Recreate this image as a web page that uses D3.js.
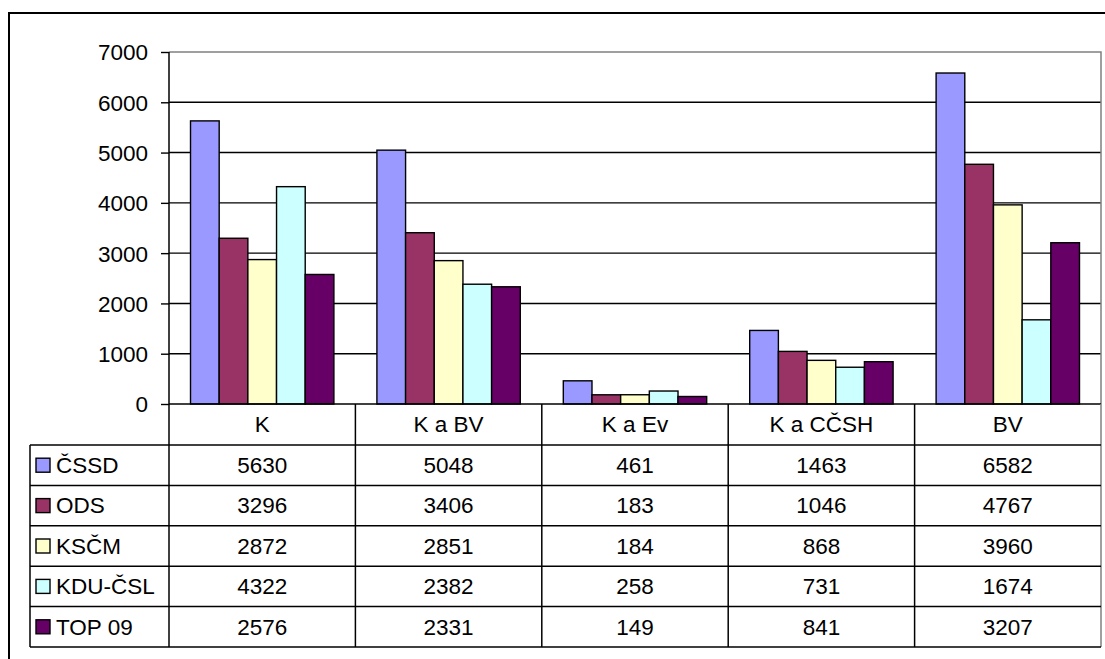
<!DOCTYPE html>
<html>
<head>
<meta charset="utf-8">
<style>
  body { margin: 0; background: #fff; }
  text { font-family: "Liberation Sans", Arial, sans-serif; font-size: 22.5px; fill: #000; }
</style>
<title>Volby</title>
</head>
<body>
<script src="https://cdn.jsdelivr.net/npm/d3@7"></script>
<script>

var categories = ["K", "K a BV", "K a Ev", "K a CČSH", "BV"];
var parties = ["ČSSD", "ODS", "KSČM", "KDU-ČSL", "TOP 09"];
var colors = ["#9999ff", "#993366", "#ffffcc", "#ccffff", "#660066"];
var values = [
	[5630, 5048, 461, 1463, 6582],
	[3296, 3406, 183, 1046, 4767],
	[2872, 2851, 184, 868, 3960],
	[4322, 2382, 258, 731, 1674],
	[2576, 2331, 149, 841, 3207]
];
var yTicks = [0, 1000, 2000, 3000, 4000, 5000, 6000, 7000];

var W = 1105, H = 659;
var plot = {left: 169, right: 1101, top: 52, bottom: 404};
var rowH = 40.4, headH = 41, legLeft = 30;

var svg = d3.select("body").append("svg")
	.attr("width", W)
	.attr("height", H);

// outer frame of the chart object
svg.append("rect")
	.attr("x", 9).attr("y", 13)
	.attr("width", W + 20).attr("height", H + 20)
	.attr("fill", "none").attr("stroke", "#000").attr("stroke-width", 2);

var x = d3.scaleBand()
	.domain(categories)
	.range([plot.left, plot.right]);

var xs = d3.scaleBand()
	.domain(parties)
	.range([0, x.bandwidth()])
	.paddingInner(0)
	.paddingOuter(0.75);

var y = d3.scaleLinear()
	.domain([0, 7000])
	.range([plot.bottom, plot.top]);

// gridlines
svg.append("g").selectAll("line")
	.data(yTicks.filter(d => d > 0 && d < 7000))
	.enter().append("line")
	.attr("x1", plot.left).attr("x2", plot.right)
	.attr("y1", d => y(d)).attr("y2", d => y(d))
	.attr("stroke", "#000").attr("stroke-width", 1.4);

// plot area border (top / right)
svg.append("path")
	.attr("d", `M${plot.left},${y(7000)}H${plot.right}V${plot.bottom}`)
	.attr("fill", "none").attr("stroke", "#808080").attr("stroke-width", 1.5);

// bars
var group = svg.append("g").selectAll("g")
	.data(parties)
	.enter().append("g")
	.attr("fill", (d, i) => colors[i]);

group.selectAll("rect")
	.data((p, i) => values[i].map((v, j) => ({party: p, cat: categories[j], v: v})))
	.enter().append("rect")
	.attr("x", d => x(d.cat) + xs(d.party))
	.attr("width", xs.bandwidth())
	.attr("y", d => y(d.v))
	.attr("height", d => y(0) - y(d.v))
	.attr("stroke", "#000").attr("stroke-width", 1.4);

// y axis
var yAxis = d3.axisLeft(y)
	.tickValues(yTicks)
	.tickSize(8)
	.tickPadding(13)
	.tickFormat(d3.format("d"));
var ya = svg.append("g")
	.attr("transform", `translate(${plot.left},0)`)
	.call(yAxis);
ya.select(".domain").remove();
ya.selectAll("line").attr("stroke", "#000").attr("stroke-width", 1.4);
ya.selectAll("text").style("font-size", "22.5px").attr("dy", "0.35em");

// data table
var tableBottom = plot.bottom + headH + rowH * parties.length;
var t = svg.append("g").attr("stroke", "#000").attr("stroke-width", 1.5);

// axis line / table top
t.append("line")
	.attr("x1", plot.left).attr("x2", plot.right)
	.attr("y1", plot.bottom).attr("y2", plot.bottom);
// y axis line running down through table
t.append("line")
	.attr("x1", plot.left).attr("x2", plot.left)
	.attr("y1", plot.top).attr("y2", tableBottom);
// column separators
t.selectAll(".col")
	.data(categories.slice(1))
	.enter().append("line")
	.attr("x1", d => x(d)).attr("x2", d => x(d))
	.attr("y1", plot.bottom).attr("y2", tableBottom);
// right edge
t.append("line")
	.attr("x1", plot.right).attr("x2", plot.right)
	.attr("y1", plot.bottom).attr("y2", tableBottom)
	.attr("stroke", "#808080");
// left edge of legend column
t.append("line")
	.attr("x1", legLeft).attr("x2", legLeft)
	.attr("y1", plot.bottom + headH).attr("y2", tableBottom);
// row lines
t.selectAll(".row")
	.data(d3.range(parties.length + 1))
	.enter().append("line")
	.attr("x1", legLeft).attr("x2", plot.right)
	.attr("y1", i => plot.bottom + headH + i * rowH)
	.attr("y2", i => plot.bottom + headH + i * rowH);

// category labels
svg.append("g").selectAll("text")
	.data(categories)
	.enter().append("text")
	.attr("x", d => x(d) + x.bandwidth() / 2)
	.attr("y", plot.bottom + headH / 2)
	.attr("dy", "0.35em")
	.attr("text-anchor", "middle")
	.text(d => d);

// rows: legend key, name, values
var row = svg.append("g").selectAll("g")
	.data(parties)
	.enter().append("g")
	.attr("transform", (d, i) => `translate(0,${plot.bottom + headH + i * rowH + rowH / 2})`);

row.append("rect")
	.attr("x", 36).attr("y", -7)
	.attr("width", 14).attr("height", 14)
	.attr("fill", (d, i) => colors[i])
	.attr("stroke", "#000").attr("stroke-width", 1.4);

row.append("text")
	.attr("x", 56)
	.attr("dy", "0.35em")
	.text(d => d);

row.selectAll(".val")
	.data((p, i) => values[i].map((v, j) => ({cat: categories[j], v: v})))
	.enter().append("text")
	.attr("x", d => x(d.cat) + x.bandwidth() / 2)
	.attr("dy", "0.35em")
	.attr("text-anchor", "middle")
	.text(d => d.v);

</script>
</body>
</html>
